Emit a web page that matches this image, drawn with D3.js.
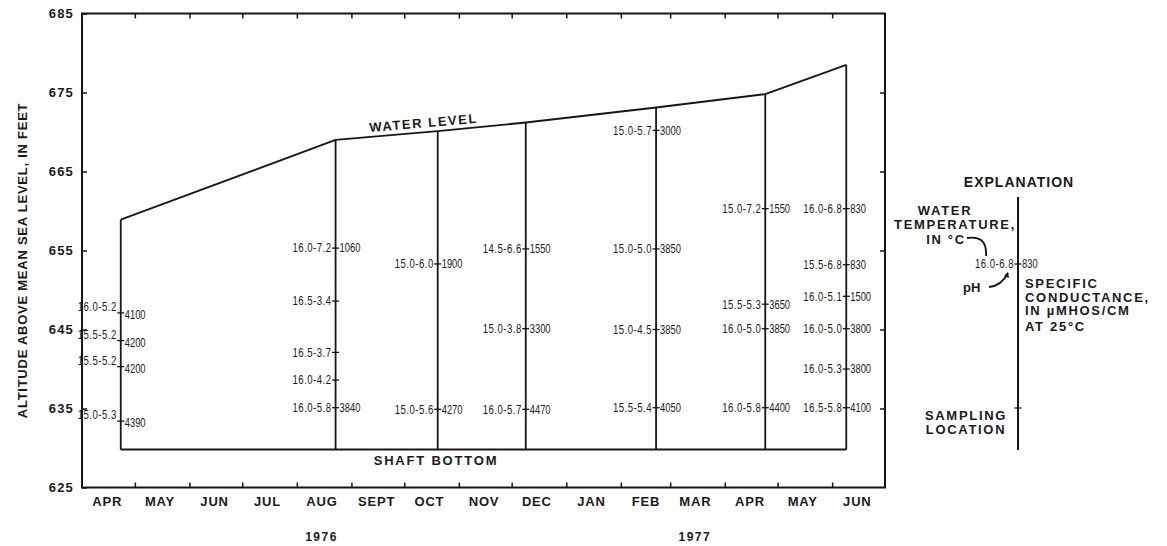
<!DOCTYPE html>
<html>
<head>
<meta charset="utf-8">
<script src="https://cdn.jsdelivr.net/npm/d3@7/dist/d3.min.js"></script>
<style>
  html, body { margin: 0; padding: 0; background: #fff; }
  svg { display: block; }
  text { font-family: "Liberation Sans", Arial, sans-serif; fill: #1a1a1a; }
  .bold { font-weight: bold; }
</style>
</head>
<body>
<svg id="chart" width="1167" height="546"></svg>
<script>
// Month labels along the time axis (April 1976 through June 1977)
const monthLabels = ["APR", "MAY", "JUN", "JUL", "AUG", "SEPT", "OCT", "NOV", "DEC",
                     "JAN", "FEB", "MAR", "APR", "MAY", "JUN"];
const yearLabels = ["1976", "1977"];
const yearCenters = ["1976-08-15", "1977-03-15"];
const altitudeTicks = [625, 635, 645, 655, 665, 675, 685];

// Sampling dates and the water level (feet above mean sea level) on each date
const sampleDates = ["1976-04-23", "1976-08-23", "1976-10-20", "1976-12-09",
                     "1977-02-21", "1977-04-24", "1977-06-09"];
const waterLevel = [658.9, 669.0, 670.1, 671.2, 673.1, 674.8, 678.5];
const shaftBottom = 629.8;

// Individual samples: which sampling date, altitude of sample, water temperature (°C),
// pH, and specific conductance (µmhos/cm at 25°C; null where not measured)
const sampleIndex   = [0, 0, 0, 0,
                       1, 1, 1, 1, 1,
                       2, 2,
                       3, 3, 3,
                       4, 4, 4, 4,
                       5, 5, 5, 5,
                       6, 6, 6, 6, 6, 6];
const sampleAlt     = [647.1, 643.6, 640.3, 633.4,
                       655.3, 648.6, 642.1, 638.6, 635.1,
                       653.3, 634.9,
                       655.2, 645.1, 634.9,
                       670.2, 655.2, 645.0, 635.1,
                       660.3, 648.2, 645.1, 635.1,
                       660.3, 653.2, 649.2, 645.1, 640.0, 635.1];
const temperature   = [16.0, 15.5, 15.5, 15.0,
                       16.0, 16.5, 16.5, 16.0, 16.0,
                       15.0, 15.0,
                       14.5, 15.0, 16.0,
                       15.0, 15.0, 15.0, 15.5,
                       15.0, 15.5, 16.0, 16.0,
                       16.0, 15.5, 16.0, 16.0, 16.0, 16.5];
const pH            = [5.2, 5.2, 5.2, 5.3,
                       7.2, 3.4, 3.7, 4.2, 5.8,
                       6.0, 5.6,
                       6.6, 3.8, 5.7,
                       5.7, 5.0, 4.5, 5.4,
                       7.2, 5.3, 5.0, 5.8,
                       6.8, 6.8, 5.1, 5.0, 5.3, 5.8];
const conductance   = [4100, 4200, 4200, 4390,
                       1060, null, null, null, 3840,
                       1900, 4270,
                       1550, 3300, 4470,
                       3000, 3850, 3850, 4050,
                       1550, 3650, 3850, 4400,
                       830, 830, 1500, 3800, 3800, 4100];

// Example values shown in the explanation
const legendTemp = 16.0, legendPH = 6.8, legendCond = 830;

const parse = d3.timeParse("%Y-%m-%d");
const svg = d3.select("#chart");

const plotLeft = 82, plotRight = 885, plotTop = 13.5, plotBottom = 487.5;

const x = d3.scaleTime()
  .domain([new Date(1976, 3, 1), new Date(1977, 6, 1)])
  .range([plotLeft, plotRight]);
const y = d3.scaleLinear().domain([625, 685]).range([plotBottom, plotTop]);

const ink = "#161616";
const fmt1 = d3.format(".1f");

// ---- frame and inward ticks ----
svg.append("rect")
  .attr("x", plotLeft).attr("y", plotTop)
  .attr("width", plotRight - plotLeft).attr("height", plotBottom - plotTop)
  .attr("fill", "none").attr("stroke", ink).attr("stroke-width", 2);

const monthStarts = d3.timeMonth.range(new Date(1976, 4, 1), new Date(1977, 6, 1));
const midMonths = d3.timeMonth.range(new Date(1976, 3, 1), new Date(1977, 6, 1))
  .map(d => new Date(d.getFullYear(), d.getMonth(), 15));

function styleAxis(g) {
  g.select(".domain").remove();
  g.selectAll(".tick line").attr("stroke", ink).attr("stroke-width", 1.5);
}

// bottom: month boundary ticks
svg.append("g").attr("transform", `translate(0,${plotBottom})`)
  .call(d3.axisBottom(x).tickValues(monthStarts).tickSize(-5).tickFormat(""))
  .call(styleAxis);
// top: month boundary ticks
svg.append("g").attr("transform", `translate(0,${plotTop})`)
  .call(d3.axisTop(x).tickValues(monthStarts).tickSize(-5).tickFormat(""))
  .call(styleAxis);

// month names
const monthAxis = svg.append("g").attr("transform", `translate(0,${plotBottom})`)
  .call(d3.axisBottom(x).tickValues(midMonths).tickSize(0).tickPadding(9)
    .tickFormat((d, i) => monthLabels[i]));
monthAxis.select(".domain").remove();
monthAxis.selectAll("text")
  .attr("class", "bold")
  .style("font-size", "13px").style("letter-spacing", "0.8px")
  .style("font-family", "'Liberation Sans', Arial, sans-serif")
  .attr("fill", ink);

// years
svg.selectAll(".year").data(yearLabels).join("text")
  .attr("class", "bold year")
  .attr("x", (d, i) => x(parse(yearCenters[i])))
  .attr("y", 541)
  .attr("text-anchor", "middle")
  .style("font-size", "12px").style("letter-spacing", "1.5px")
  .text(d => d);

// left altitude axis
const yAxis = svg.append("g").attr("transform", `translate(${plotLeft},0)`)
  .call(d3.axisLeft(y).tickValues(altitudeTicks).tickSize(-5).tickPadding(8)
    .tickFormat(d3.format("d")));
styleAxis(yAxis);
yAxis.selectAll("text")
  .attr("class", "bold")
  .style("font-size", "13px").style("letter-spacing", "1.2px")
  .style("font-family", "'Liberation Sans', Arial, sans-serif")
  .attr("fill", ink);

// right frame ticks
svg.append("g").attr("transform", `translate(${plotRight},0)`)
  .call(d3.axisRight(y).tickValues(altitudeTicks.slice(1, -1)).tickSize(-5).tickFormat(""))
  .call(styleAxis);

// axis title
svg.append("text")
  .attr("class", "bold")
  .attr("transform", `translate(27,${(plotTop + plotBottom) / 2 + 10}) rotate(-90)`)
  .attr("text-anchor", "middle")
  .style("font-size", "13px").style("letter-spacing", "0.75px")
  .text("ALTITUDE ABOVE MEAN SEA LEVEL, IN FEET");

// ---- shaft profile: water level, sampling verticals, shaft bottom ----
const dates = sampleDates.map(parse);
const levelLine = d3.line().x((d, i) => x(dates[i])).y(d => y(d));
svg.append("path")
  .datum(waterLevel)
  .attr("d", levelLine)
  .attr("fill", "none").attr("stroke", ink).attr("stroke-width", 1.8)
  .attr("stroke-linejoin", "round");

svg.selectAll(".vert").data(waterLevel).join("line")
  .attr("class", "vert")
  .attr("x1", (d, i) => x(dates[i])).attr("x2", (d, i) => x(dates[i]))
  .attr("y1", d => y(d)).attr("y2", y(shaftBottom))
  .attr("stroke", ink).attr("stroke-width", 1.8);

svg.append("line")
  .attr("x1", x(dates[0])).attr("x2", x(dates[dates.length - 1]))
  .attr("y1", y(shaftBottom)).attr("y2", y(shaftBottom))
  .attr("stroke", ink).attr("stroke-width", 2);

// profile labels
{
  const a = x(dates[1]), b = x(dates[2]);
  const ang = Math.atan2(y(waterLevel[2]) - y(waterLevel[1]), b - a) * 180 / Math.PI;
  const cx = 424;
  const cy = y(waterLevel[1]) + (y(waterLevel[2]) - y(waterLevel[1])) * (cx - a) / (b - a) - 5;
  svg.append("text")
    .attr("class", "bold")
    .attr("transform", `translate(${cx},${cy}) rotate(${ang})`)
    .attr("text-anchor", "middle")
    .style("font-size", "13px").style("letter-spacing", "1.6px")
    .text("WATER LEVEL");
}
svg.append("text")
  .attr("class", "bold")
  .attr("x", 436).attr("y", y(shaftBottom) + 15)
  .attr("text-anchor", "middle")
  .style("font-size", "13px").style("letter-spacing", "1.8px")
  .text("SHAFT BOTTOM");

// ---- sample marks and values ----
const samples = sampleIndex.map((c, i) => ({
  col: c, alt: sampleAlt[i], t: temperature[i], ph: pH[i], sc: conductance[i]
}));

const sg = svg.append("g");
samples.forEach(s => {
  const sx = x(dates[s.col]);
  const sy = y(s.alt);
  // stagger the labels beside the first sampling line, which sits close to the frame
  const dl = s.col === 0 ? -6 : 0;
  const dr = s.col === 0 ? 2 : 0;
  sg.append("line")
    .attr("x1", sx - 3.5).attr("x2", sx + 3.5)
    .attr("y1", sy).attr("y2", sy)
    .attr("stroke", ink).attr("stroke-width", 1.3);
  sg.append("text")
    .attr("transform", `translate(${sx - 4},${sy + dl}) scale(0.8,1)`)
    .attr("dy", "0.36em")
    .attr("text-anchor", "end")
    .style("font-size", "12px").style("letter-spacing", "0.6px")
    .text(`${fmt1(s.t)}-${fmt1(s.ph)}`);
  if (s.sc != null) {
    sg.append("text")
      .attr("transform", `translate(${sx + 4},${sy + dr}) scale(0.78,1)`)
      .attr("dy", "0.36em")
      .attr("text-anchor", "start")
      .style("font-size", "12px")
      .text(s.sc);
  }
});

// ---- explanation ----
const ex = 1018;
const lg = svg.append("g");
lg.append("text").attr("class", "bold")
  .attr("x", 1019).attr("y", 187).attr("text-anchor", "middle")
  .style("font-size", "14px").style("letter-spacing", "1px")
  .text("EXPLANATION");
lg.append("line")
  .attr("x1", ex).attr("x2", ex).attr("y1", 197).attr("y2", 450)
  .attr("stroke", ink).attr("stroke-width", 2);

[["WATER", 945, 215], ["TEMPERATURE,", 955, 228.5], ["IN °C", 946, 244]].forEach(([t, tx, ty]) => {
  lg.append("text").attr("class", "bold")
    .attr("x", tx).attr("y", ty).attr("text-anchor", "middle")
    .style("font-size", "13px").style("letter-spacing", "1.7px")
    .text(t);
});
["SPECIFIC", "CONDUCTANCE,", "IN µMHOS/CM", "AT 25°C"].forEach((t, i) => {
  lg.append("text").attr("class", "bold")
    .attr("x", 1025).attr("y", [288, 301.5, 315, 331][i])
    .style("font-size", "13px").style("letter-spacing", "1.7px")
    .text(t);
});
["SAMPLING", "LOCATION"].forEach((t, i) => {
  lg.append("text").attr("class", "bold")
    .attr("x", 966).attr("y", 420 + i * 14).attr("text-anchor", "middle")
    .style("font-size", "13px").style("letter-spacing", "1.7px")
    .text(t);
});
lg.append("text").attr("class", "bold")
  .attr("x", 963).attr("y", 292)
  .style("font-size", "13px")
  .text("pH");

// example sample
const ly = 264;
lg.append("line").attr("x1", ex - 3.5).attr("x2", ex + 3.5).attr("y1", ly).attr("y2", ly)
  .attr("stroke", ink).attr("stroke-width", 1.3);
lg.append("text")
  .attr("transform", `translate(${ex - 4},${ly}) scale(0.8,1)`)
  .attr("dy", "0.36em").attr("text-anchor", "end")
  .style("font-size", "12px").style("letter-spacing", "0.6px")
  .text(`${fmt1(legendTemp)}-${fmt1(legendPH)}`);
lg.append("text")
  .attr("transform", `translate(${ex + 4},${ly}) scale(0.78,1)`)
  .attr("dy", "0.36em")
  .style("font-size", "12px")
  .text(legendCond);
// sampling location mark
const sy2 = 408;
lg.append("line").attr("x1", ex - 3.5).attr("x2", ex + 3.5).attr("y1", sy2).attr("y2", sy2)
  .attr("stroke", ink).attr("stroke-width", 1.3);

// pointer arrows
lg.append("path")
  .attr("d", "M967,238 C979,236 987,240 986,256")
  .attr("fill", "none").attr("stroke", ink).attr("stroke-width", 1.8);
lg.append("path")
  .attr("d", "M989,287 C998,286 1004,281 1008,273")
  .attr("fill", "none").attr("stroke", ink).attr("stroke-width", 1.8);
lg.append("path")
  .attr("d", "M1004,276 L1008,272 L1009,278 Z")
  .attr("fill", ink);
</script>
</body>
</html>
